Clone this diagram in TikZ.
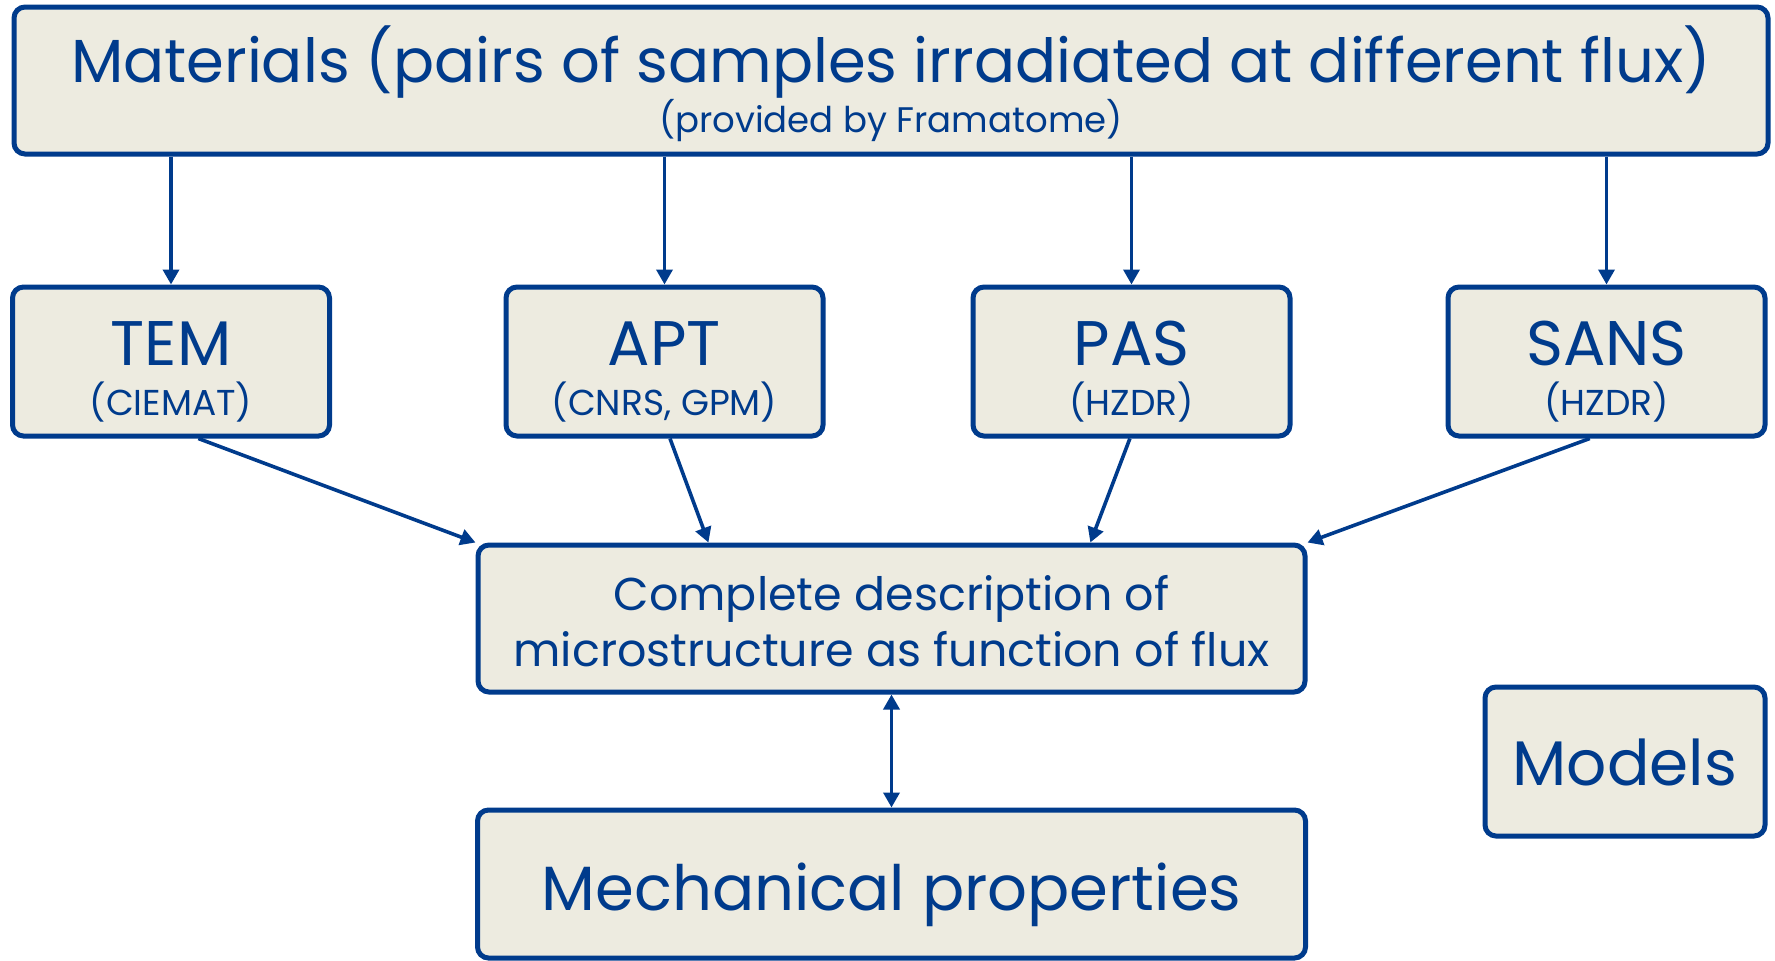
\documentclass[tikz,border=0pt]{standalone}
\usepackage{fontspec}
\setmainfont{Poppins}
\usetikzlibrary{arrows.meta,positioning,calc}
\definecolor{Navy}{HTML}{003B8C}
\definecolor{Paper}{HTML}{EDEBE0}
\newcommand{\bxup}[1]{\rule{0pt}{#1pt}}
\newcommand{\bxdn}[1]{\rule[-#1pt]{0pt}{#1pt}}
\newcommand{\fsz}[1]{\fontsize{#1}{#1}\selectfont}
\begin{document}
\begin{tikzpicture}[x=1pt,y=-1pt,
  Head/.tip={Triangle[length=15pt,width=16pt]},
  box/.style={draw=Navy,line width=5pt,fill=Paper,rounded corners=11pt,text=Navy,align=center,inner sep=0pt},
  method/.style={box,minimum width=317pt,minimum height=149pt,font=\fontsize{36}{50}\selectfont},
  link/.style={draw=Navy,line width=3.6pt,-Head}]
  \useasboundingbox (0,0) rectangle (1775,961);
  % source of the samples
  \node[box,minimum width=1754pt,minimum height=147pt,font=\fontsize{35.5}{50}\selectfont] (mat) at (891,80.5)
    {{\fsz{60.8}\bxup{68}Materials (pairs of samples irradiated at different flux)}\\(provided by Framatome)\bxdn{15}};
  % techniques
  \node[method] (tem) at (171,361.5) {{\fsz{63}\bxup{67}TEM}\\(CIEMAT)\bxdn{10}};
  \node[method] (apt) at (664.5,361.5) {{\fsz{63}\bxup{67}APT}\\(CNRS, GPM)\bxdn{10}};
  \node[method] (pas) at (1131.5,361.5) {{\fsz{63}\bxup{67}PAS}\\(HZDR)\bxdn{10}};
  \node[method] (sans) at (1606.5,361.5) {{\fsz{63}\bxup{67}SANS}\\(HZDR)\bxdn{10}};
  % results
  \node[box,minimum width=827pt,minimum height=147pt,font=\fontsize{46}{56}\selectfont] (desc) at (891.5,618.5)
    {\bxup{44}Complete description of\\microstructure as function of flux\bxdn{5}};
  \node[box,minimum width=828pt,minimum height=148pt,font=\fsz{62.5},below=113pt of desc] (mech)
    {\bxup{70}Mechanical properties\bxdn{18}};
  \node[box,minimum width=280pt,minimum height=149pt,font=\fsz{63}] (models) at (1625,761.5)
    {\bxup{52}Models\bxdn{5}};
  % connectors
  \foreach \b in {tem,apt,pas,sans}
    \draw[link] (\b.north |- mat.south) -- (\b.north);
  \draw[link] ($(tem.south west)!0.585!(tem.south east)$) -- (desc.north west);
  \draw[link] ($(apt.south west)!0.517!(apt.south east)$) -- ($(desc.north west)!0.28!(desc.north east)$);
  \draw[link] ($(pas.south west)!0.495!(pas.south east)$) -- ($(desc.north west)!0.739!(desc.north east)$);
  \draw[link] ($(sans.south west)!0.448!(sans.south east)$) -- (desc.north east);
  \draw[link,Head-Head] (desc.south) -- (mech.north);
\end{tikzpicture}
\end{document}
